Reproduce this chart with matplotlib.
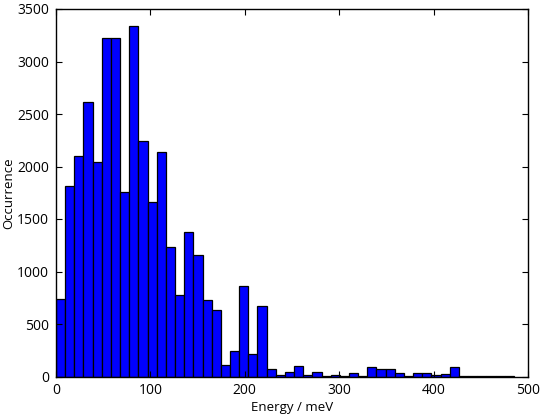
import numpy as np
import matplotlib
matplotlib.use("Agg")
import matplotlib.pyplot as plt

# Histogram counts per bin (50 bins, 0 to ~485 meV)
bin_start = 0.0
bin_stop = 485.0
counts = [
    737, 1816, 2102, 2614, 2039, 3226, 3220, 1753, 3334, 2245,
    1664, 2137, 1229, 775, 1372, 1156, 730, 629, 108, 245,
    861, 210, 670, 70, 13, 44, 98, 16, 44, 6,
    10, 3, 35, 4, 92, 70, 73, 38, 3, 29,
    35, 16, 22, 92, 6, 2, 1, 1, 1, 1,
]
xlabel = "Energy / meV"
ylabel = "Occurrence"
xticks = [0, 100, 200, 300, 400, 500]
yticks = [0, 500, 1000, 1500, 2000, 2500, 3000, 3500]

plt.rcParams['font.family'] = ['Open Sans', 'DejaVu Sans']

fig = plt.figure(figsize=(5.4, 4.17), dpi=100)
ax = fig.add_axes([56/540, (417-376.5)/417, 472/540, 367.5/417])

edges = np.linspace(bin_start, bin_stop, len(counts) + 1)
centers = 0.5 * (edges[:-1] + edges[1:])
ax.hist(centers, bins=edges, weights=counts, color='#0000ff',
        edgecolor='black', linewidth=0.9)

ax.set_xlim(0, 500)
ax.set_ylim(0, 3500)
ax.set_xticks(xticks)
ax.set_yticks(yticks)
ax.tick_params(direction='in', top=True, right=True, length=4, width=0.8,
               labelsize=10, pad=5)
for s in ax.spines.values():
    s.set_linewidth(1.0)
ax.set_xlabel(xlabel, fontsize=9.5, labelpad=2)
ax.set_ylabel(ylabel, fontsize=9.5, labelpad=1)

fig.savefig("out.png", dpi=100)
